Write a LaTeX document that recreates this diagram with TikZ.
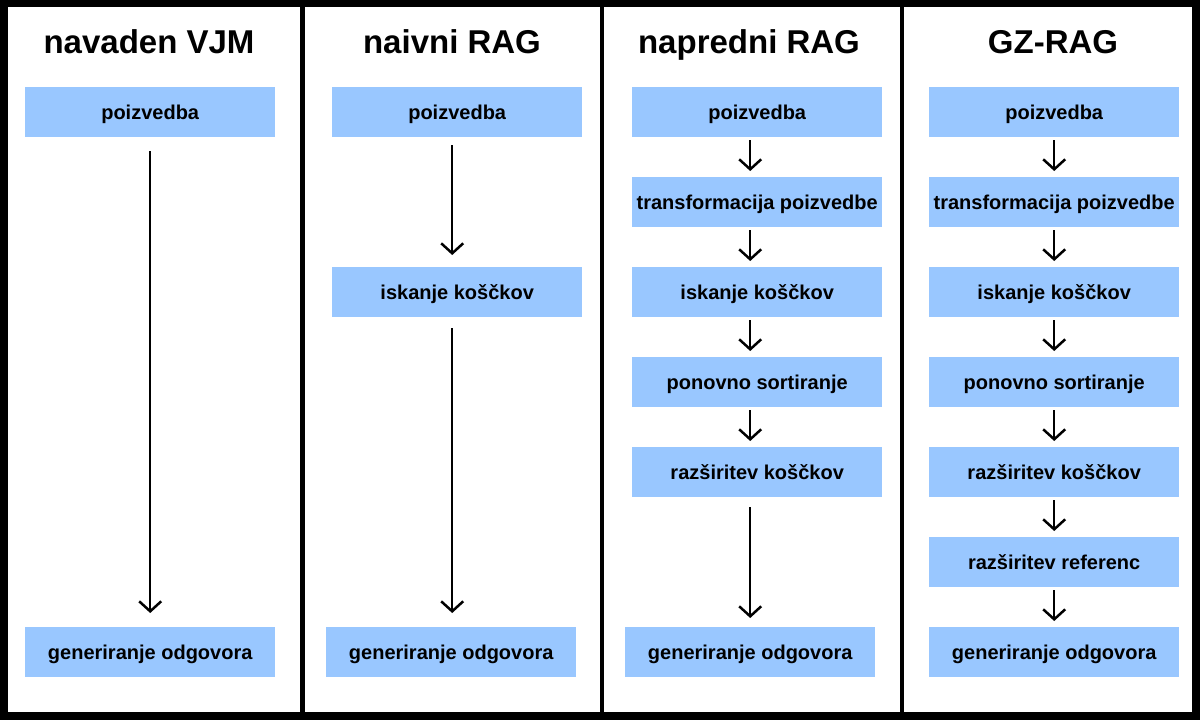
\documentclass[tikz,border=0pt]{standalone}
\usepackage{fontspec}
\setmainfont{Liberation Sans}
\usetikzlibrary{arrows.meta}
\definecolor{boxblue}{RGB}{153,199,255}
\begin{document}
\begin{tikzpicture}[x=1pt,y=-1pt,
  stepbox/.style={fill=boxblue, minimum width=250pt, minimum height=50pt, inner sep=0pt,
    anchor=north west, font=\bfseries\fontsize{20}{24}\selectfont, text height=19pt, text depth=5pt},
  coltitle/.style={font=\bfseries\fontsize{33}{40}\selectfont, anchor=base, inner sep=0pt},
  arr/.style={line width=2.5pt, -{Straight Barb[length=10pt,width=22pt]}}]
\useasboundingbox (0,0) rectangle (1200,720);
% frame
\fill[black] (0,0) rectangle (1200,720);
\fill[white] (8,7) rectangle (1192,712);
\fill[black] (300,0) rectangle (304.5,720);
\fill[black] (599.5,0) rectangle (604,720);
\fill[black] (899.5,0) rectangle (904,720);
% titles
\node[coltitle] (t1) at (149,53) {navaden VJM};
\node[coltitle] (t2) at (452,53) {naivni RAG};
\node[coltitle] (t3) at (749,53) {napredni RAG};
\node[coltitle] (t4) at (1053,53) {GZ-RAG};
% column 1
\node[stepbox] (a1) at (25,87) {poizvedba};
\node[stepbox] (a2) at (25,627) {generiranje odgovora};
\draw[arr] ([yshift=-14pt]a1.south) -- ([yshift=14pt]a2.north);
% column 2
\node[stepbox] (b1) at (332,87) {poizvedba};
\node[stepbox] (b2) at (332,267) {iskanje koščkov};
\node[stepbox] (b3) at (326,627) {generiranje odgovora};
\draw[arr] ([xshift=-5pt,yshift=-8pt]b1.south) -- ([xshift=-5pt,yshift=12pt]b2.north);
\draw[arr] ([xshift=-5pt,yshift=-11pt]b2.south) -- ([xshift=1pt,yshift=14pt]b3.north);
% column 3
\node[stepbox] (c1) at (632,87) {poizvedba};
\node[stepbox] (c2) at (632,177) {transformacija poizvedbe};
\node[stepbox] (c3) at (632,267) {iskanje koščkov};
\node[stepbox] (c4) at (632,357) {ponovno sortiranje};
\node[stepbox] (c5) at (632,447) {razširitev koščkov};
\node[stepbox] (c6) at (625,627) {generiranje odgovora};
\foreach \u/\v in {c1/c2,c2/c3,c3/c4,c4/c5}
  \draw[arr] ([xshift=-7pt,yshift=-3pt]\u.south) -- ([xshift=-7pt,yshift=6pt]\v.north);
\draw[arr] ([xshift=-7pt,yshift=-10pt]c5.south) -- ([yshift=9pt]c6.north);
% column 4
\node[stepbox] (d1) at (929,87) {poizvedba};
\node[stepbox] (d2) at (929,177) {transformacija poizvedbe};
\node[stepbox] (d3) at (929,267) {iskanje koščkov};
\node[stepbox] (d4) at (929,357) {ponovno sortiranje};
\node[stepbox] (d5) at (929,447) {razširitev koščkov};
\node[stepbox] (d6) at (929,537) {razširitev referenc};
\node[stepbox] (d7) at (929,627) {generiranje odgovora};
\foreach \u/\v in {d1/d2,d2/d3,d3/d4,d4/d5,d5/d6,d6/d7}
  \draw[arr] ([yshift=-3pt]\u.south) -- ([yshift=6pt]\v.north);
\end{tikzpicture}
\end{document}
